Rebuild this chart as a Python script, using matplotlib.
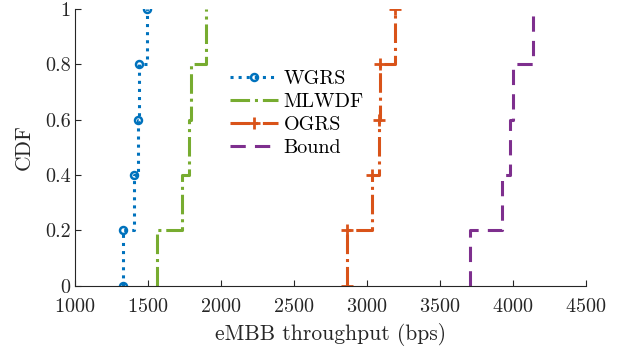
import matplotlib
matplotlib.use('Agg')
import matplotlib.pyplot as plt

plt.rcParams['font.family'] = 'serif'
plt.rcParams['font.serif'] = ['cmr10']
plt.rcParams['mathtext.fontset'] = 'cm'
plt.rcParams['axes.formatter.use_mathtext'] = True

cdf = [0, 0.2, 0.4, 0.6, 0.8, 1.0]
wgrs = [1333, 1333, 1408, 1436, 1440, 1493]
mlwdf = [1566, 1566, 1733, 1785, 1795, 1900]
ogrs = [2863, 2863, 3034, 3082, 3091, 3196]
bound = [3707, 3707, 3924, 3984, 4002, 4137]

fig = plt.figure(figsize=(6.3, 3.47), dpi=100)
ax = fig.add_axes([0.1186, 0.1767, 0.8111, 0.7973])

ax.step(wgrs, cdf, where='post', color='#0072BD', linestyle=':', linewidth=2.2,
        marker='o', markersize=5, markerfacecolor='none', markeredgewidth=1.8, label='WGRS')
ax.step(mlwdf, cdf, where='post', color='#77AC30', linestyle='-.', linewidth=2.2, label='MLWDF')
ax.step(ogrs, cdf, where='post', color='#D95319', linestyle='-.', linewidth=2.2,
        marker='+', markersize=8, markeredgewidth=2, label='OGRS')
ax.step(bound, cdf, where='post', color='#7E2F8E', linestyle=(0, (5, 3)), linewidth=2.2, label='Bound')

ax.set_xlim(1000, 4500)
ax.set_ylim(0, 1)
ax.set_xticks(range(1000, 4501, 500))
ax.set_yticks(cdf)
ax.set_yticklabels(['0', '0.2', '0.4', '0.6', '0.8', '1'])
ax.tick_params(direction='in', labelsize=14.5, length=4, colors='#262626')
ax.tick_params(axis='x', pad=9)
ax.tick_params(axis='y', pad=3)
ax.spines['top'].set_visible(False)
ax.spines['right'].set_visible(False)
ax.spines['left'].set_color('#262626')
ax.spines['bottom'].set_color('#262626')
ax.set_xlabel('eMBB throughput (bps)', fontsize=15.5, color='#262626', labelpad=5)
ax.set_ylabel('CDF', fontsize=15.5, color='#262626', labelpad=8)
ax.legend(loc='upper left', bbox_to_anchor=(0.304, 0.78), frameon=False, fontsize=14.5,
          borderpad=0, borderaxespad=0, handlelength=2.4, handletextpad=0.25, labelspacing=0.25)

fig.savefig('out.png', dpi=100)
